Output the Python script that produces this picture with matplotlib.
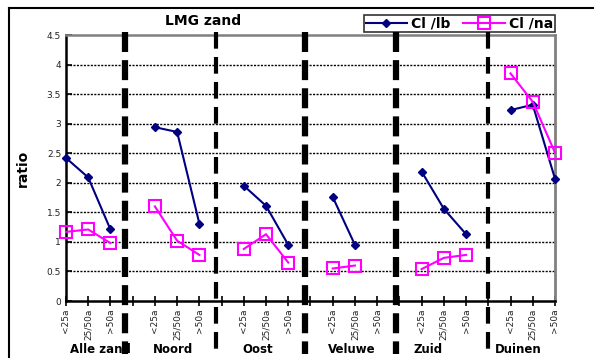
import numpy as np
import matplotlib.pyplot as plt
from matplotlib.lines import Line2D

# regions and age classes
regions = ['Alle zand', 'Noord', 'Oost', 'Veluwe', 'Zuid', 'Duinen']
region_x = [1.53, 4.81, 8.64, 12.87, 16.28, 20.33]
ages = ['<25a', '25/50a', '>50a']

# ratio per region (3 age classes each), nan = no value
cl_lb = [[2.42, 2.09, 1.21],
         [2.94, 2.86, 1.31],
         [1.95, 1.61, 0.95],
         [1.76, 0.95, np.nan],
         [2.19, 1.56, 1.13],
         [3.23, 3.32, 2.07]]
cl_na = [[1.17, 1.21, 0.98],
         [1.60, 1.02, 0.78],
         [0.88, 1.13, 0.65],
         [0.55, 0.60, np.nan],
         [0.54, 0.73, 0.78],
         [3.85, 3.37, 2.51]]

# separator lines between regions (category units) and their widths
sep_x = [2.65, 6.75, 10.75, 14.83, 18.98]
sep_w = [4.5, 3, 4.5, 4.5, 3]

fig = plt.figure(figsize=(5.94, 3.58), dpi=100)
ax = fig.add_axes([0.1111, 0.1592, 0.8232, 0.743])

# outer frame (top and left only)
fig.add_artist(Line2D([0.015, 1.0], [0.978, 0.978], color='black', lw=1.5))
fig.add_artist(Line2D([0.015, 0.015], [0.0, 0.978], color='black', lw=1.5))

# build category positions: 3 per region, one empty slot between regions
xpos, labels = [], []
for i in range(len(regions)):
    for j, a in enumerate(ages):
        xpos.append(i * 4 + j)
        labels.append(a)
    if i < len(regions) - 1:
        xpos.append(i * 4 + 3)
        labels.append('')

for i in range(len(regions)):
    xs = [i * 4 + j for j in range(3)]
    l1, = ax.plot(xs, cl_lb[i], color='#000080', lw=1.5, marker='D',
                  markersize=4, clip_on=False, zorder=4)
    l2, = ax.plot(xs, cl_na[i], color='#FF00FF', lw=1.5, marker='s',
                  markersize=8, markerfacecolor='none', markeredgewidth=1.5,
                  clip_on=False, zorder=4)

ax.set_xlim(0, 22)
ax.set_ylim(0, 4.5)
ax.set_yticks(np.arange(0, 4.51, 0.5))
ax.set_yticklabels(['0', '0.5', '1', '1.5', '2', '2.5', '3', '3.5', '4', '4.5'])
ax.set_xticks(xpos)
ax.set_xticklabels(labels, rotation=90, fontsize=6.5, color='#222222')
ax.tick_params(axis='y', labelsize=6.5, labelcolor='#222222', direction='in',
               length=4, width=1.2)
ax.tick_params(axis='x', direction='inout', length=7, width=1.2, pad=2)

for y in np.arange(0.5, 4.01, 0.5):
    ax.axhline(y, color='black', lw=1.0, ls=(0, (1.5, 1)), zorder=1)

ax.spines['left'].set_linewidth(1.8)
ax.spines['bottom'].set_linewidth(1.8)
ax.spines['top'].set_color('#808080')
ax.spines['top'].set_linewidth(1.8)
ax.spines['right'].set_color('#808080')
ax.spines['right'].set_linewidth(2)

# dashed separators running from above the plot down through the labels
trans = ax.get_xaxis_transform()
for x, w in zip(sep_x, sep_w):
    ax.add_artist(Line2D([x, x], [1.012, -0.2], transform=trans, color='black',
                         lw=w, ls=(0, (3.2, 1.3)) if w > 4 else (0, (4, 2)),
                         clip_on=False, zorder=5))

# region names under the axis
for x, r in zip(region_x, regions):
    ax.text(x, -0.183, r, transform=trans, ha='center', va='center',
            fontsize=8.5, fontweight='bold')

ax.set_title('LMG zand', fontsize=10, fontweight='bold', pad=7, x=0.28)
ax.set_ylabel('ratio', fontsize=10, fontweight='bold', labelpad=12)

leg = ax.legend([l1, l2], ['Cl /lb', 'Cl /na'], ncol=2, loc='lower right',
                bbox_to_anchor=(1.0, 1.01), frameon=True, fancybox=False,
                edgecolor='black', borderpad=0.12, handlelength=3.0,
                handletextpad=0.3, columnspacing=0.9,
                prop={'weight': 'bold', 'size': 10}, borderaxespad=0.0)
leg.get_frame().set_linewidth(1.2)

fig.savefig('out.png', dpi=100)
